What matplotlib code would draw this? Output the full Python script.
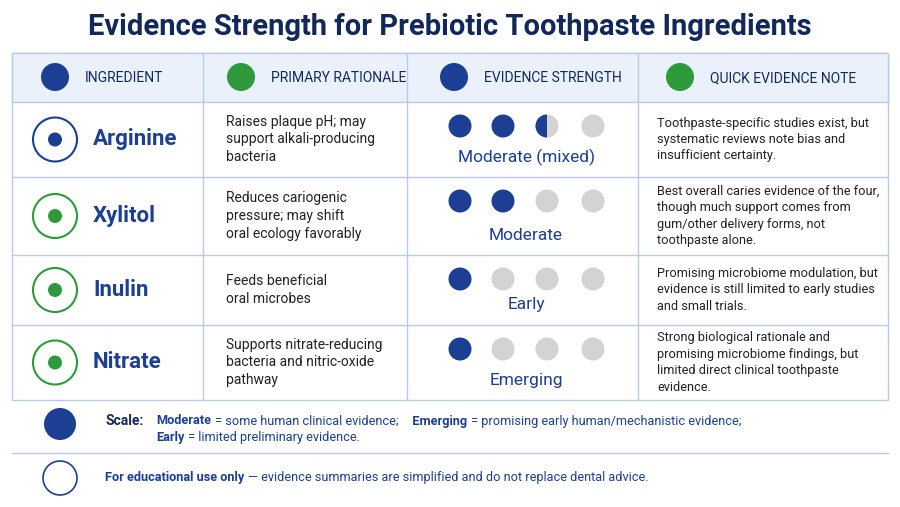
import matplotlib
matplotlib.use("Agg")
import matplotlib.pyplot as plt
from matplotlib.patches import Rectangle, Circle, Wedge

plt.rcParams['font.family'] = ['Roboto', 'DejaVu Sans']

title = "Evidence Strength for Prebiotic Toothpaste Ingredients"
headers = ["INGREDIENT", "PRIMARY RATIONALE", "EVIDENCE STRENGTH", "QUICK EVIDENCE NOTE"]
ingredients = ["Arginine", "Xylitol", "Inulin", "Nitrate"]
rationales = ["Raises plaque pH; may\nsupport alkali-producing\nbacteria",
              "Reduces cariogenic\npressure; may shift\noral ecology favorably",
              "Feeds beneficial\noral microbes",
              "Supports nitrate-reducing\nbacteria and nitric-oxide\npathway"]
scores = [2.5, 2, 1, 1]
levels = ["Moderate (mixed)", "Moderate", "Early", "Emerging"]
notes = ["Toothpaste-specific studies exist, but\nsystematic reviews note bias and\ninsufficient certainty.",
         "Best overall caries evidence of the four,\nthough much support comes from\ngum/other delivery forms, not\ntoothpaste alone.",
         "Promising microbiome modulation, but\nevidence is still limited to early studies\nand small trials.",
         "Strong biological rationale and\npromising microbiome findings, but\nlimited direct clinical toothpaste\nevidence."]
icon_colors = ["#1c3f94", "#2e9a3c", "#2e9a3c", "#2e9a3c"]

NAVY = "#13285a"; BLUE = "#1c3f94"; GREEN = "#2e9a3c"; GREY = "#d3d3d3"
LINE = "#b9cbe6"

fig = plt.figure(figsize=(9, 5.07), dpi=100)
ax = fig.add_axes([0, 0, 1, 1])
ax.set_xlim(0, 900); ax.set_ylim(507, 0); ax.axis('off')
renderer = fig.canvas.get_renderer()

def chain(x, y, parts, size=9.2):
    for txt, bold in parts:
        t = ax.text(x, y, txt, ha='left', va='center', fontsize=size,
                    fontweight='bold' if bold else 'normal', color=BLUE)
        bb = t.get_window_extent(renderer)
        x += bb.width + 4

ax.text(450, 27, title, ha='center', va='center', fontsize=21, fontweight='bold', color=NAVY)

ax.add_patch(Rectangle((12, 53), 876, 347, fc='white', ec=LINE, lw=1))
ax.add_patch(Rectangle((12, 53), 876, 49, fc='#eaf1fb', ec=LINE, lw=1))
cols = [12, 203, 407, 638, 888]
for x in cols[1:-1]:
    ax.plot([x, x], [53, 400], color=LINE, lw=1)
rows = [102, 177, 255, 325, 400]
for y in rows[1:-1]:
    ax.plot([12, 888], [y, y], color=LINE, lw=1)

hx = [55, 241, 454, 680]
hcol = [BLUE, GREEN, BLUE, GREEN]
for i, h in enumerate(headers):
    ax.add_patch(Circle((hx[i], 77), 14, fc=hcol[i], ec='none'))
    ax.text(hx[i] + 30, 78, h, ha='left', va='center', fontsize=10, color=NAVY)

for i in range(4):
    top, bot = rows[i], rows[i + 1]
    cy = (top + bot) / 2
    ax.add_patch(Circle((55, cy), 22, fc='white', ec=icon_colors[i], lw=1.5))
    ax.add_patch(Circle((55, cy), 7, fc=icon_colors[i], ec='none'))
    ax.text(93, cy, ingredients[i], ha='left', va='center', fontsize=16, fontweight='bold', color=BLUE)
    ax.text(226, cy, rationales[i], ha='left', va='center', fontsize=10, color='#222222', linespacing=1.35)
    ax.text(657, cy, notes[i], ha='left', va='center', fontsize=9.2, color='#222222', linespacing=1.35)
    dy = top + 24
    for k, dx in enumerate([460, 503, 547, 593]):
        s = scores[i] - k
        if s >= 1:
            ax.add_patch(Circle((dx, dy), 11.5, fc=BLUE, ec='none'))
        elif s > 0:
            ax.add_patch(Circle((dx, dy), 11.5, fc=GREY, ec='none'))
            ax.add_patch(Wedge((dx, dy), 11.5, 90, 270, fc=BLUE, ec='none'))
        else:
            ax.add_patch(Circle((dx, dy), 11.5, fc=GREY, ec='none'))
    ax.text(526, bot - 20, levels[i], ha='center', va='center', fontsize=12.5, color=BLUE)

ax.add_patch(Circle((60, 424), 16, fc=BLUE, ec='none'))
ax.text(105, 421, "Scale:", ha='left', va='center', fontsize=10, fontweight='bold', color=NAVY)
chain(156, 421, [("Moderate", True), ("= some human clinical evidence;", False),
                 ("   Emerging", True), ("= promising early human/mechanistic evidence;", False)])
chain(156, 438, [("Early", True), ("= limited preliminary evidence.", False)])
ax.plot([12, 888], [453, 453], color=LINE, lw=1)
ax.add_patch(Circle((60, 478), 17, fc='white', ec=BLUE, lw=1.2))
chain(105, 478, [("For educational use only", True),
                 ("— evidence summaries are simplified and do not replace dental advice.", False)])

fig.savefig("out.png", dpi=100, facecolor='white')
